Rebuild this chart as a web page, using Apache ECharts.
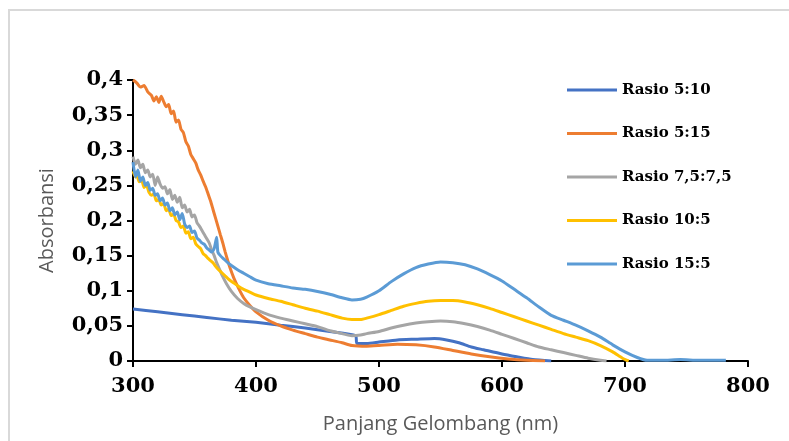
<!DOCTYPE html>
<html>
<head>
<meta charset="utf-8">
<script src="https://cdn.jsdelivr.net/npm/echarts@6/dist/echarts.min.js"></script>
<style>
  html, body { margin: 0; padding: 0; background: #fff; }
  #chart { width: 789px; height: 441px; }
</style>
</head>
<body>
<div id="chart"></div>
<script>
// wavelength (nm), absorbance pairs
const rasio5_10 = [
  [300, 0.074], [320, 0.070], [340, 0.066], [360, 0.062], [380, 0.058], [400, 0.055],
  [420, 0.051], [440, 0.047], [460, 0.042], [481, 0.036], [482, 0.025], [490, 0.025],
  [500, 0.027], [515, 0.030], [530, 0.031], [545, 0.032], [555, 0.030], [565, 0.026],
  [575, 0.020], [585, 0.016], [600, 0.010], [612, 0.006], [625, 0.002], [640, 0.000]
];
const rasio5_15 = [
  [300, 0.400], [303, 0.396], [306, 0.390], [309, 0.392], [312, 0.383], [315, 0.378],
  [317, 0.370], [319, 0.376], [321, 0.368], [323, 0.377], [325, 0.369], [327, 0.362],
  [329, 0.365], [331, 0.352], [333, 0.356], [335, 0.340], [337, 0.343], [339, 0.330],
  [341, 0.325], [343, 0.312], [345, 0.306], [347, 0.294], [349, 0.288], [351, 0.282],
  [353, 0.272], [355, 0.265], [357, 0.256], [359, 0.248], [361, 0.238], [363, 0.228],
  [365, 0.216], [367, 0.204], [369, 0.192], [371, 0.180], [373, 0.168], [375, 0.155],
  [377, 0.143], [379, 0.132], [382, 0.118], [386, 0.103], [390, 0.090], [395, 0.079],
  [400, 0.070], [410, 0.058], [420, 0.050], [430, 0.044], [440, 0.039], [450, 0.034],
  [460, 0.030], [470, 0.026], [478, 0.022], [490, 0.021], [500, 0.022], [515, 0.024],
  [530, 0.023], [545, 0.020], [560, 0.015], [575, 0.010], [590, 0.006], [605, 0.003],
  [620, 0.001], [635, 0.000]
];
const rasio7_5 = [
  [300, 0.291], [302, 0.280], [304, 0.286], [306, 0.275], [308, 0.280], [310, 0.268],
  [312, 0.272], [314, 0.262], [316, 0.266], [318, 0.250], [320, 0.262], [322, 0.252],
  [324, 0.246], [326, 0.248], [328, 0.238], [330, 0.244], [332, 0.230], [334, 0.236],
  [336, 0.226], [338, 0.233], [340, 0.218], [342, 0.222], [344, 0.212], [346, 0.216],
  [348, 0.205], [350, 0.208], [352, 0.197], [354, 0.192], [356, 0.186], [358, 0.180],
  [360, 0.174], [362, 0.168], [364, 0.158], [366, 0.150], [368, 0.140], [370, 0.132],
  [373, 0.120], [376, 0.110], [380, 0.099], [385, 0.089], [390, 0.082], [395, 0.077],
  [400, 0.073], [410, 0.066], [420, 0.061], [430, 0.057], [440, 0.053], [450, 0.049],
  [460, 0.043], [470, 0.039], [478, 0.036], [485, 0.037], [490, 0.039], [500, 0.042],
  [510, 0.047], [520, 0.051], [530, 0.054], [540, 0.056], [550, 0.057], [560, 0.056],
  [570, 0.053], [580, 0.049], [590, 0.044], [600, 0.038], [610, 0.032], [620, 0.026],
  [630, 0.020], [640, 0.016], [650, 0.012], [660, 0.008], [670, 0.004], [680, 0.001],
  [685, 0.000]
];
const rasio10_5 = [
  [300, 0.270], [302, 0.262], [303, 0.266], [305, 0.255], [307, 0.258], [309, 0.247],
  [311, 0.250], [313, 0.240], [315, 0.236], [317, 0.238], [319, 0.228], [321, 0.230],
  [323, 0.222], [325, 0.224], [327, 0.214], [329, 0.216], [331, 0.207], [333, 0.209],
  [335, 0.200], [337, 0.198], [339, 0.190], [341, 0.192], [343, 0.182], [345, 0.184],
  [347, 0.174], [349, 0.176], [351, 0.167], [353, 0.163], [355, 0.160], [357, 0.153],
  [359, 0.150], [361, 0.146], [363, 0.143], [365, 0.140], [367, 0.135], [369, 0.131],
  [372, 0.126], [375, 0.121], [378, 0.116], [382, 0.111], [386, 0.106], [390, 0.102],
  [395, 0.098], [400, 0.094], [410, 0.089], [420, 0.085], [430, 0.080], [440, 0.075],
  [450, 0.071], [460, 0.066], [470, 0.061], [478, 0.059], [485, 0.059], [490, 0.061],
  [500, 0.066], [510, 0.072], [520, 0.078], [530, 0.082], [540, 0.085], [550, 0.086],
  [560, 0.086], [570, 0.084], [580, 0.080], [590, 0.075], [600, 0.069], [610, 0.063],
  [620, 0.057], [630, 0.051], [640, 0.045], [650, 0.039], [660, 0.034], [670, 0.029],
  [680, 0.022], [690, 0.013], [698, 0.004], [703, 0.000]
];
const rasio15_5 = [
  [300, 0.283], [302, 0.262], [304, 0.272], [306, 0.256], [308, 0.262], [310, 0.250],
  [312, 0.254], [314, 0.243], [316, 0.246], [318, 0.236], [320, 0.238], [322, 0.228],
  [324, 0.232], [326, 0.222], [328, 0.225], [330, 0.214], [332, 0.218], [334, 0.208],
  [336, 0.212], [338, 0.201], [340, 0.210], [342, 0.195], [344, 0.190], [346, 0.192],
  [348, 0.183], [350, 0.185], [352, 0.175], [354, 0.172], [356, 0.168], [358, 0.166],
  [360, 0.161], [362, 0.158], [364, 0.155], [366, 0.160], [368, 0.176], [369, 0.155],
  [371, 0.150], [374, 0.145], [377, 0.140], [380, 0.136], [385, 0.130], [390, 0.125],
  [395, 0.120], [400, 0.115], [410, 0.110], [420, 0.107], [430, 0.104], [440, 0.102],
  [450, 0.099], [460, 0.095], [470, 0.090], [478, 0.087], [485, 0.088], [490, 0.091],
  [500, 0.100], [510, 0.113], [520, 0.124], [530, 0.133], [540, 0.138], [550, 0.141],
  [560, 0.140], [570, 0.137], [580, 0.131], [590, 0.123], [600, 0.114], [610, 0.102],
  [620, 0.090], [630, 0.077], [640, 0.065], [650, 0.058], [660, 0.051], [670, 0.043],
  [680, 0.034], [690, 0.023], [700, 0.013], [710, 0.005], [718, 0.001], [730, 0.001],
  [745, 0.002], [760, 0.001], [782, 0.001]
];

const seriesNames = ["Rasio 5:10", "Rasio 5:15", "Rasio 7,5:7,5", "Rasio 10:5", "Rasio 15:5"];
const seriesData = [rasio5_10, rasio5_15, rasio7_5, rasio10_5, rasio15_5];
const colors = ["#4472C4", "#ED7D31", "#A5A5A5", "#FFC000", "#5B9BD5"];

const chart = echarts.init(document.getElementById("chart"));

const serifBold = {
  fontFamily: "DejaVu Serif",
  fontWeight: "bold",
  color: "#000",
};

chart.setOption({
  backgroundColor: "#fff",
  animation: false,
  color: colors,
  graphic: [
    {
      type: "rect",
      shape: { x: 9, y: 10, width: 900, height: 600 },
      style: { fill: "none", stroke: "#d9d9d9", lineWidth: 2 },
      silent: true,
    },
  ],
  grid: {
    left: 133,
    right: 41,
    top: 80,
    bottom: 80,
  },
  legend: {
    orient: "vertical",
    left: 567,
    top: 80,
    padding: 0,
    icon: "rect",
    itemWidth: 50,
    itemHeight: 3,
    itemGap: 23.5,
    data: seriesNames,
    textStyle: { ...serifBold, fontSize: 15, lineHeight: 20 },
  },
  xAxis: {
    type: "value",
    min: 300,
    max: 800,
    interval: 100,
    name: "Panjang Gelombang (nm)",
    nameLocation: "middle",
    nameGap: 53,
    nameTextStyle: { fontFamily: "Open Sans", fontSize: 20, color: "#595959" },
    axisLine: { lineStyle: { color: "#000", width: 2 } },
    axisTick: { show: true, inside: false, length: 6, lineStyle: { color: "#000", width: 2 } },
    axisLabel: { ...serifBold, fontSize: 21, margin: 15 },
    splitLine: { show: false },
  },
  yAxis: {
    type: "value",
    min: 0,
    max: 0.4,
    interval: 0.05,
    name: "Absorbansi",
    nameLocation: "middle",
    nameGap: 76,
    nameTextStyle: { fontFamily: "Open Sans", fontSize: 20, color: "#595959" },
    axisLine: { show: true, lineStyle: { color: "#000", width: 2 } },
    axisTick: { show: true, inside: false, length: 6, lineStyle: { color: "#000", width: 2 } },
    axisLabel: {
      ...serifBold,
      fontSize: 21,
      margin: 10,
      formatter: (v) => (v === 0 ? "0" : String(+v.toFixed(2)).replace(".", ",")),
    },
    splitLine: { show: false },
  },
  series: seriesNames.map((name, i) => ({
    name,
    type: "line",
    data: seriesData[i],
    showSymbol: false,
    smooth: 0.2,
    lineStyle: { color: colors[i], width: 3 },
    itemStyle: { color: colors[i] },
  })),
});
</script>
</body>
</html>
